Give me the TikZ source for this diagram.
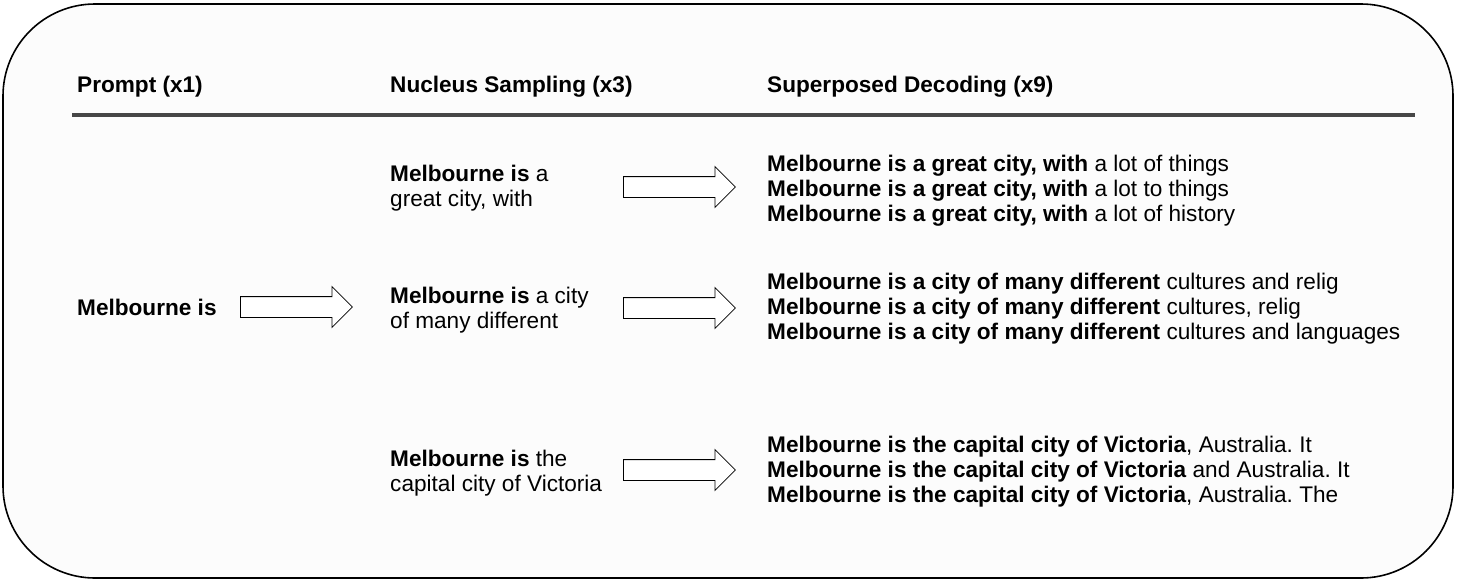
\documentclass[tikz,border=0pt]{standalone}
\usepackage{fontspec}
\setmainfont{Liberation Sans}
\usepackage{tikz}
\usetikzlibrary{arrows.meta,shapes,positioning}
\frenchspacing

\begin{document}
\begin{tikzpicture}[x=1pt,y=-1pt,every node/.style={inner sep=0pt,minimum size=0pt,font=\fontsize{22.6}{25}\selectfont},
    blockarrow/.style={draw=black,fill=white,line width=0.8pt,single arrow,single arrow head extend=10pt,inner xsep=0pt,inner ysep=10pt,minimum height=112pt},
    txt/.style={draw=none,anchor=west,align=left}]
    \useasboundingbox (0,0) rectangle (1457,582);
    \draw[line width=1.6pt,fill=gray!2,rounded corners=92pt] (3,4) rectangle (1453,578);

    \node(hp)[txt] at (77,87) {\textbf{Prompt (x1)}};
    \node(hn)[txt] at (390,87) {\textbf{Nucleus Sampling (x3)}};
    \node(hs)[txt] at (767,87) {\textbf{Superposed Decoding (x9)}};
    \draw[line width=3.2pt,draw=black!72] (72,115) -- (1415,115);

    \node(p)[txt] at (77,307) {\textbf{Melbourne is}};
    \node(pa)[blockarrow,anchor=tail] at (240,307) {};

    \node(na)[txt] at (390,188) {\textbf{Melbourne is} a\\great city, with};
    \node(nb)[txt] at (390,310) {\textbf{Melbourne is} a city\\of many different};
    \node(nc)[txt] at (390,473) {\textbf{Melbourne is} the\\capital city of Victoria};

    \node(naa)[blockarrow,anchor=tail] at (623,187) {};
    \node(nba)[blockarrow,anchor=tail] at (623,308) {};
    \node(nca)[blockarrow,anchor=tail] at (623,470) {};

    \node(sa)[txt] at (767,191) {\textbf{Melbourne is a great city, with} a lot of things\\
      \textbf{Melbourne is a great city, with} a lot to things\\
      \textbf{Melbourne is a great city, with} a lot of history};
    \node(sb)[txt] at (767,309) {\textbf{Melbourne is a city of many different} cultures and relig\\
      \textbf{Melbourne is a city of many different} cultures, relig\\
      \textbf{Melbourne is a city of many different} cultures and languages};
    \node(sc)[txt] at (767,472) {\textbf{Melbourne is the capital city of Victoria}, Australia. It\\
      \textbf{Melbourne is the capital city of Victoria} and Australia. It\\
      \textbf{Melbourne is the capital city of Victoria}, Australia. The};
  \end{tikzpicture}
\end{document}
